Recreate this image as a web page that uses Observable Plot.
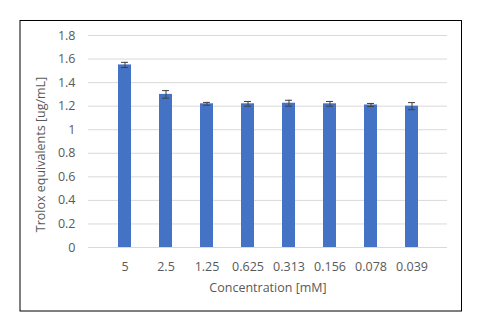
<!DOCTYPE html>
<html>
<head>
<meta charset="utf-8">
<script src="https://cdn.jsdelivr.net/npm/d3@7"></script>
<script src="https://cdn.jsdelivr.net/npm/@observablehq/plot@0.6"></script>
<style>
  html, body { margin: 0; padding: 0; background: #fff; }
  #chart svg { display: block; }
</style>
</head>
<body>
<div id="chart"></div>
<script>
const concentrations = ["5", "2.5", "1.25", "0.625", "0.313", "0.156", "0.078", "0.039"];
const values = [1.55, 1.30, 1.22, 1.22, 1.225, 1.22, 1.21, 1.20];
const errors = [0.022, 0.032, 0.012, 0.02, 0.025, 0.02, 0.013, 0.03];
const yTicks = [0, 0.2, 0.4, 0.6, 0.8, 1, 1.2, 1.4, 1.6, 1.8];
const yTickLabels = ["0", "0.2", "0.4", "0.6", "0.8", "1", "1.2", "1.4", "1.6", "1.8"];
const xTitle = "Concentration [mM]";
const yTitle = "Trolox equivalents [ug/mL]";

const data = concentrations.map((c, i) => ({c, v: values[i], e: errors[i]}));

const font = "'Open Sans', sans-serif";
const plot = Plot.plot({
  width: 481,
  height: 336,
  marginLeft: 88,
  marginRight: 34,
  marginTop: 35,
  marginBottom: 89,
  style: {fontFamily: font, fontSize: "12px", color: "#595959", background: "#fff"},
  x: {domain: concentrations, padding: 0.69, label: null},
  y: {domain: [0, 1.8], label: null},
  marks: [
    Plot.gridY(yTicks, {stroke: "#d9d9d9", strokeOpacity: 1}),
    Plot.axisY(yTicks, {tickSize: 0, tickPadding: 13, tickFormat: (d) => yTickLabels[yTicks.indexOf(d)], fill: "#595959", fontSize: 12.5}),
    Plot.axisX({tickSize: 0, tickPadding: 15, fill: "#595959", fontSize: 12.5}),
    Plot.barY(data, {x: "c", y: "v", fill: "#4472c4"}),
    Plot.ruleX(data, {x: "c", y1: d => d.v - d.e, y2: d => d.v + d.e, stroke: "#404040", strokeWidth: 1}),
    Plot.tickY(data, {x: "c", y: d => d.v - d.e, stroke: "#404040", strokeWidth: 1, inset: 3}),
    Plot.tickY(data, {x: "c", y: d => d.v + d.e, stroke: "#404040", strokeWidth: 1, inset: 3}),
    Plot.text([xTitle], {frameAnchor: "bottom", dy: 40, lineAnchor: "middle", fill: "#595959", fontSize: 12.5}),
    Plot.text([yTitle], {frameAnchor: "left", dx: -48, dy: 13, rotate: -90, lineAnchor: "middle", textAnchor: "middle", fill: "#595959", fontSize: 12.5})
  ]
});

d3.select(plot).append("rect")
  .attr("x", 20).attr("y", 20.5)
  .attr("width", 441.5).attr("height", 290.5)
  .attr("fill", "none").attr("stroke", "#000").attr("stroke-width", 1);

document.getElementById("chart").appendChild(plot);
</script>
</body>
</html>
